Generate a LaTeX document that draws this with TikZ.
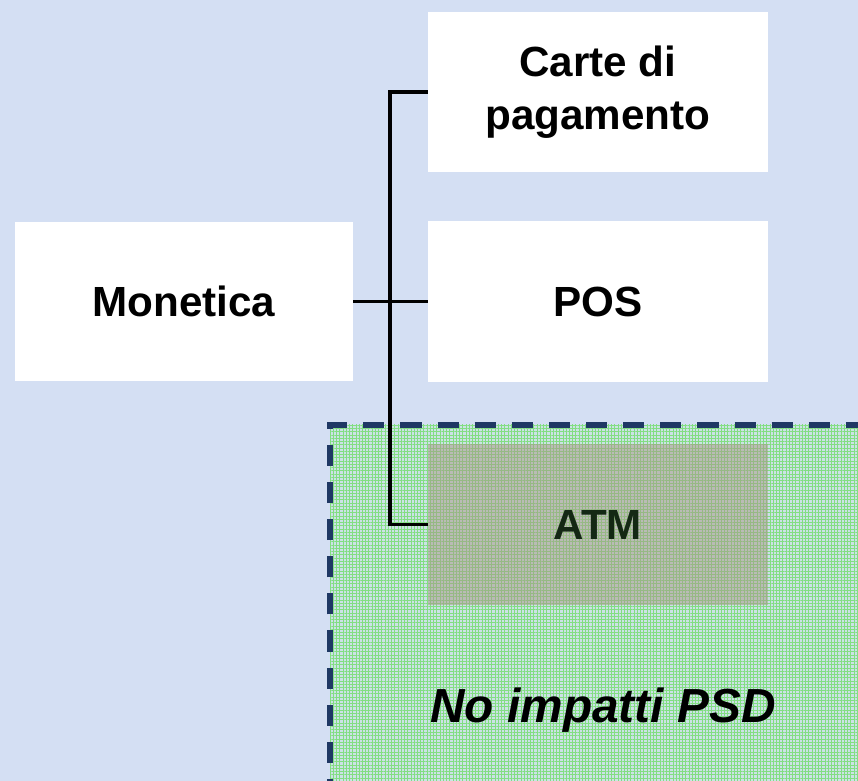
\documentclass[tikz,border=0pt]{standalone}
\usepackage{fontspec}
\setmainfont{Liberation Sans}
\usetikzlibrary{patterns.meta}

\definecolor{bglight}{RGB}{212,223,243}
\definecolor{bgdark}{RGB}{192,208,236}
\definecolor{zonefill}{RGB}{204,226,230}
\definecolor{zonegrid}{RGB}{130,222,130}
\definecolor{zoneedge}{RGB}{31,56,100}
\definecolor{atmfill}{RGB}{170,150,135}
\definecolor{atmtext}{RGB}{20,40,20}

\tikzset{
  box/.style={fill=white, inner sep=0pt, minimum width=8.5cm, minimum height=4cm,
    align=center, font=\fontsize{30}{38}\selectfont\bfseries},
  link/.style={line width=2.6pt, black},
}

\begin{document}
\begin{tikzpicture}[x=0.025cm, y=-0.025cm]
% Background
\useasboundingbox (0,0) rectangle (858,781);
\clip (0,0) rectangle (858,781);
\shade[top color=bglight, middle color=bgdark, bottom color=bglight, shading angle=45] (-100,-100) rectangle (958,881);

% Zone without impact
\fill[zonefill] (330,425) rectangle (880,800);
\fill[pattern={Hatch[angle=0, distance=2.3pt, line width=0.3pt]}, pattern color=zonegrid] (330,425) rectangle (880,800);

% Boxes
\node[box, minimum width=8.45cm, minimum height=3.975cm] (mon) at (184,301.5) {Monetica};
\node[box] (carte) at (598,92) {Carte di\\pagamento};
\node[box] (pos) at (598,301.5) {POS};
\node[box, fill=atmfill, fill opacity=0.5, text opacity=1, text=atmtext] (atm) at (598,524.5) {ATM};
\node[font=\fontsize{34}{40}\selectfont\bfseries\itshape] (psd) at (603,710) {No impatti PSD};

% Links
\draw[link] (mon.east) -- (pos.west);
\draw[link] (carte.west) -- ++(-38,0) |- (atm.west);

% Dashed border
\draw[zoneedge, line width=3.6pt, dash pattern=on 15pt off 11.4pt] (330,800) -- (330,425) -- (880,425);
\end{tikzpicture}
\end{document}
